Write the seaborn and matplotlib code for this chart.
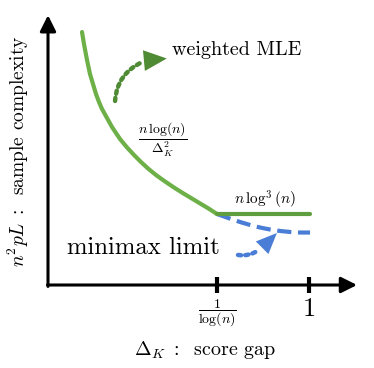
import matplotlib
matplotlib.use("Agg")
import matplotlib.pyplot as plt
import seaborn as sns
import pandas as pd

# ---- data ----
mle_x = [0.1303, 0.1379, 0.1494, 0.1609, 0.1724, 0.1839, 0.1954, 0.2069,
         0.2261, 0.2452, 0.2759, 0.3027, 0.3295, 0.3563, 0.3831, 0.4138,
         0.4483, 0.4828, 0.5172, 0.5517, 0.5824, 0.6130, 0.6475]
mle_y = [3.563, 3.394, 3.169, 2.972, 2.831, 2.690, 2.577, 2.479,
         2.352, 2.225, 2.056, 1.937, 1.831, 1.732, 1.641, 1.549,
         1.458, 1.373, 1.293, 1.217, 1.149, 1.082, 1.000]
flat_x = [0.6475, 1.004]
flat_y = [1.000, 1.000]
minimax_x = [0.648, 0.690, 0.736, 0.775, 0.812, 0.850, 0.889, 0.930, 0.966, 1.004]
minimax_y = [1.000, 0.944, 0.887, 0.845, 0.810, 0.782, 0.761, 0.746, 0.739, 0.739]
tick_pos = [0.648, 1.0]
tick_labels = [r"$\dfrac{1}{\log(n)}$", "1"]

sns.set_theme(style="white")
plt.rcParams["mathtext.fontset"] = "cm"
plt.rcParams["font.family"] = ["cmr10", "DejaVu Sans"]
plt.rcParams["axes.unicode_minus"] = False
plt.rcParams["axes.formatter.use_mathtext"] = True

GREEN = "#6cb047"
GREEN_FLAT = "#5f9e3e"
GREEN_DARK = "#4f8a34"
BLUE = "#4a7dd6"

fig = plt.figure(figsize=(3.74, 3.68), dpi=100)
ax = fig.add_axes([0, 0, 1, 1])

df_mle = pd.DataFrame({"x": mle_x, "y": mle_y})
df_flat = pd.DataFrame({"x": flat_x, "y": flat_y})
df_mm = pd.DataFrame({"x": minimax_x, "y": minimax_y})

sns.lineplot(data=df_mm, x="x", y="y", ax=ax, color=BLUE, lw=3.0,
             sort=False, estimator=None)
ax.lines[-1].set_dashes((3.4, 1.6))
ax.lines[-1].set_dash_capstyle("butt")
sns.lineplot(data=df_mle, x="x", y="y", ax=ax, color=GREEN, lw=3.0,
             sort=False, estimator=None)
sns.lineplot(data=df_flat, x="x", y="y", ax=ax, color=GREEN_FLAT, lw=3.0,
             sort=False, estimator=None)

ax.set_xlim(-0.1839, 1.249)
ax.set_ylim(-1.169, 4.014)
for s in ax.spines.values():
    s.set_visible(False)
ax.spines["bottom"].set_position(("data", 0))
ax.set_xlabel("")
ax.set_ylabel("")
ax.set_yticks([])
ax.set_xticks(tick_pos)
ax.set_xticklabels(tick_labels)
ax.tick_params(axis="x", direction="inout", length=12, width=3, color="black",
               pad=3, bottom=True)
labs = ax.get_xticklabels()
labs[0].set_fontsize(10)
labs[1].set_fontsize(19)
for l in labs:
    l.set_color("black")

# axis arrows
ax.annotate("", xy=(1.184, 0), xytext=(-0.002, 0),
            arrowprops=dict(arrowstyle="-|>,head_length=0.8,head_width=0.4",
                            lw=2.2, color="black", shrinkA=0, shrinkB=0))
ax.annotate("", xy=(0, 3.80), xytext=(0, -0.02),
            arrowprops=dict(arrowstyle="-|>,head_length=0.8,head_width=0.4",
                            lw=2.2, color="black", shrinkA=0, shrinkB=0))

# annotation arrows: dotted bodies + solid heads
dot_style = (0, (0.7, 0.95))
ax.annotate("", xy=(0.362, 3.141), xytext=(0.257, 2.592),
            arrowprops=dict(arrowstyle="-", lw=3.2, color=GREEN_DARK,
                            linestyle=dot_style,
                            connectionstyle="arc3,rad=-0.3",
                            shrinkA=0, shrinkB=0))
ax.annotate("", xy=(0.455, 3.190), xytext=(0.366, 3.160),
            arrowprops=dict(arrowstyle="-|>,head_length=0.75,head_width=0.34",
                            lw=0, color=GREEN_DARK, mutation_scale=22,
                            shrinkA=0, shrinkB=0))
ax.annotate("", xy=(0.808, 0.493), xytext=(0.728, 0.423),
            arrowprops=dict(arrowstyle="-", lw=3.2, color=BLUE,
                            linestyle=dot_style,
                            connectionstyle="arc3,rad=0.2",
                            shrinkA=0, shrinkB=0))
ax.annotate("", xy=(0.877, 0.732), xytext=(0.815, 0.505),
            arrowprops=dict(arrowstyle="-|>,head_length=0.75,head_width=0.32",
                            lw=0, color=BLUE, mutation_scale=20,
                            shrinkA=0, shrinkB=0))

# texts
ax.text(0.475, 3.31, "weighted MLE", fontsize=14.5, ha="left", va="center",
        color="black")
ax.text(0.441, 2.05, r"$\dfrac{n\,\log(n)}{\Delta_K^2}$", fontsize=10,
        ha="center", va="center", color="black")
ax.text(0.832, 1.20, r"$n\,\log^3(n)$", fontsize=11, ha="center",
        va="center", color="black")
ax.text(0.366, 0.52, "minimax limit", fontsize=17.8, ha="center",
        va="center", color="black")

fig.text(205 / 374, 1 - 350 / 368, r"$\Delta_K\;:\;$ score gap", fontsize=14.4,
         ha="center", va="center", color="black")
fig.text(18 / 374, 1 - 151 / 368, r"$n^2pL\;:\;$ sample complexity",
         fontsize=14, rotation=90, ha="center", va="center", color="black")

fig.savefig("out.png", dpi=100)
